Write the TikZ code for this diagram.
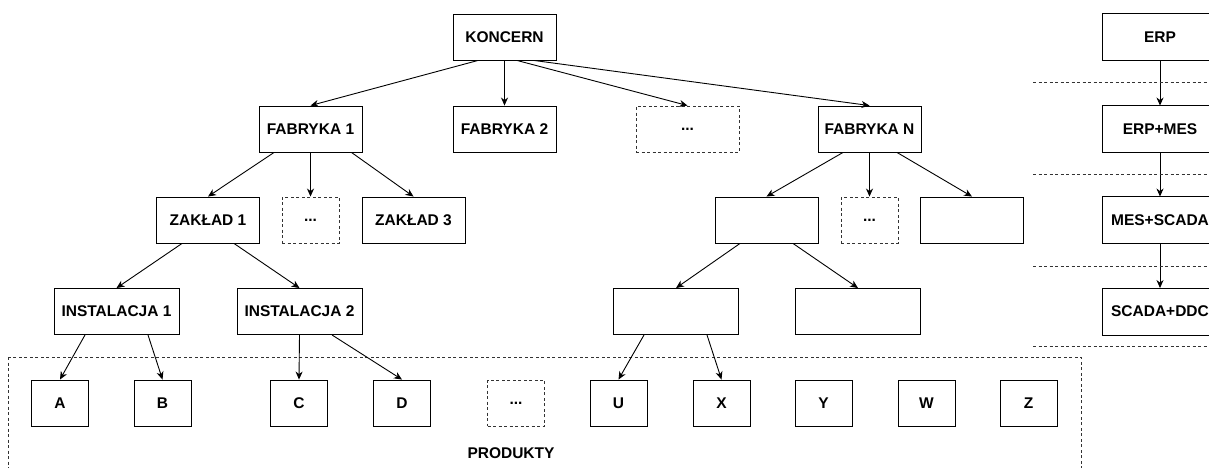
\documentclass[tikz,border=0pt]{standalone}
\usepackage{fontspec}
\setmainfont{Liberation Sans}
\usetikzlibrary{arrows.meta}

\begin{document}
\begin{tikzpicture}[x=1pt, y=-1pt, >={Stealth[length=8pt,width=7pt,inset=2.5pt]}, line width=0.9pt,
    box/.style={draw, minimum width=103pt, minimum height=46pt, inner sep=0pt, font=\bfseries\fontsize{15.5}{18}\selectfont},
    widebox/.style={box, minimum width=125pt},
    sysbox/.style={box, draw=none, minimum width=114pt},
    smallbox/.style={box, minimum width=57pt},
    dotbox/.style={dash pattern=on 3pt off 2.5pt, draw=black!80}]
    % Wymiary rysunku
    \def\picW{1209}
    \def\picH{467}
    \def\colX{1160}

    \useasboundingbox (0,0) rectangle (\picW,\picH);
    \clip (0,0) rectangle (\picW,\picH);

    % Koncern i fabryki
    \node[box] (koncern) at (504.5,37) {KONCERN};
    \node[box] (fab1) at (310.5,129) {FABRYKA 1};
    \node[box] (fab2) at (504.5,129) {FABRYKA 2};
    \node[box, dotbox] (fabdots) at (687.5,129) {...};
    \node[box] (fabN) at (869.5,129) {FABRYKA N};

    % Zakłady
    \node[box] (zak1) at (208,220) {ZAKŁAD 1};
    \node[smallbox, dotbox] (zakdots) at (310.5,220) {...};
    \node[box] (zak3) at (413.5,220) {ZAKŁAD 3};
    \node[box] (zakN1) at (766.5,220) {};
    \node[smallbox, dotbox] (zakNdots) at (869.5,220) {...};
    \node[box] (zakN3) at (972,220) {};

    % Instalacje
    \node[widebox] (inst1) at (116.5,311.5) {INSTALACJA 1};
    \node[widebox] (inst2) at (299.5,311.5) {INSTALACJA 2};
    \node[widebox] (instN1) at (676,311.5) {};
    \node[widebox] (instN2) at (858,311.5) {};

    % Produkty (ramka)
    \draw[dotbox] (8,357) rectangle (1081,\picH+20);
    \node[font=\bfseries\fontsize{15.5}{18}\selectfont] (produkty) at (511,453) {PRODUKTY};
    \node[smallbox] (pA) at (60,403) {A};
    \node[smallbox] (pB) at (162.5,403) {B};
    \node[smallbox] (pC) at (299,403) {C};
    \node[smallbox] (pD) at (402,403) {D};
    \node[smallbox, dotbox] (pdots) at (516,403) {...};
    \node[smallbox] (pU) at (618.5,403) {U};
    \node[smallbox] (pX) at (721.5,403) {X};
    \node[smallbox] (pY) at (823.5,403) {Y};
    \node[smallbox] (pW) at (926.5,403) {W};
    \node[smallbox] (pZ) at (1028.5,403) {Z};

    % Połączenia w drzewie
    \draw[->] ([xshift=-26.5pt]koncern.south) -- (fab1.north);
    \draw[->] (koncern.south) -- (fab2.north);
    \draw[->] ([xshift=12.5pt]koncern.south) -- (fabdots.north);
    \draw[->] ([xshift=29.5pt]koncern.south) -- (fabN.north);
    \draw[->] ([xshift=-36.5pt]fab1.south) -- (zak1.north);
    \draw[->] (fab1.south) -- (zakdots.north);
    \draw[->] ([xshift=41pt]fab1.south) -- (zak3.north);
    \draw[->] ([xshift=-26pt]zak1.south) -- (inst1.north);
    \draw[->] ([xshift=26pt]zak1.south) -- (inst2.north);
    \draw[->] ([xshift=-31.5pt]inst1.south) -- (pA.north);
    \draw[->] ([xshift=31.5pt]inst1.south) -- (pB.north);
    \draw[->] (inst2.south) -- (pC.north);
    \draw[->] ([xshift=32.5pt]inst2.south) -- (pD.north);
    \draw[->] ([xshift=-26.5pt]fabN.south) -- (zakN1.north);
    \draw[->] (fabN.south) -- (zakNdots.north);
    \draw[->] ([xshift=27.5pt]fabN.south) -- (zakN3.north);
    \draw[->] ([xshift=-26.5pt]zakN1.south) -- (instN1.north);
    \draw[->] ([xshift=26.5pt]zakN1.south) -- (instN2.north);
    \draw[->] ([xshift=-32pt]instN1.south) -- (pU.north);
    \draw[->] ([xshift=31pt]instN1.south) -- (pX.north);

    % Poziomy systemów (ucięte prawą krawędzią)
    \node[sysbox] (erp) at (\colX,37) {ERP};
    \node[sysbox] (erpmes) at (\colX,129) {ERP+MES};
    \node[sysbox] (messcada) at (\colX,220) {MES+SCADA};
    \node[sysbox] (scadaddc) at (\colX,311.5) {SCADA+DDC};
    \foreach \n in {erp,erpmes,messcada,scadaddc}
        \draw ([xshift=30pt]\n.north east) -- (\n.north west) -- (\n.south west) -- ([xshift=30pt]\n.south east);
    \draw[->] (erp) -- (erpmes);
    \draw[->] (erpmes) -- (messcada);
    \draw[->] (messcada) -- (scadaddc);
    \foreach \y in {82,174,266,346}
        \draw[dotbox] (1033,\y) -- (\picW,\y);

\end{tikzpicture}
\end{document}
